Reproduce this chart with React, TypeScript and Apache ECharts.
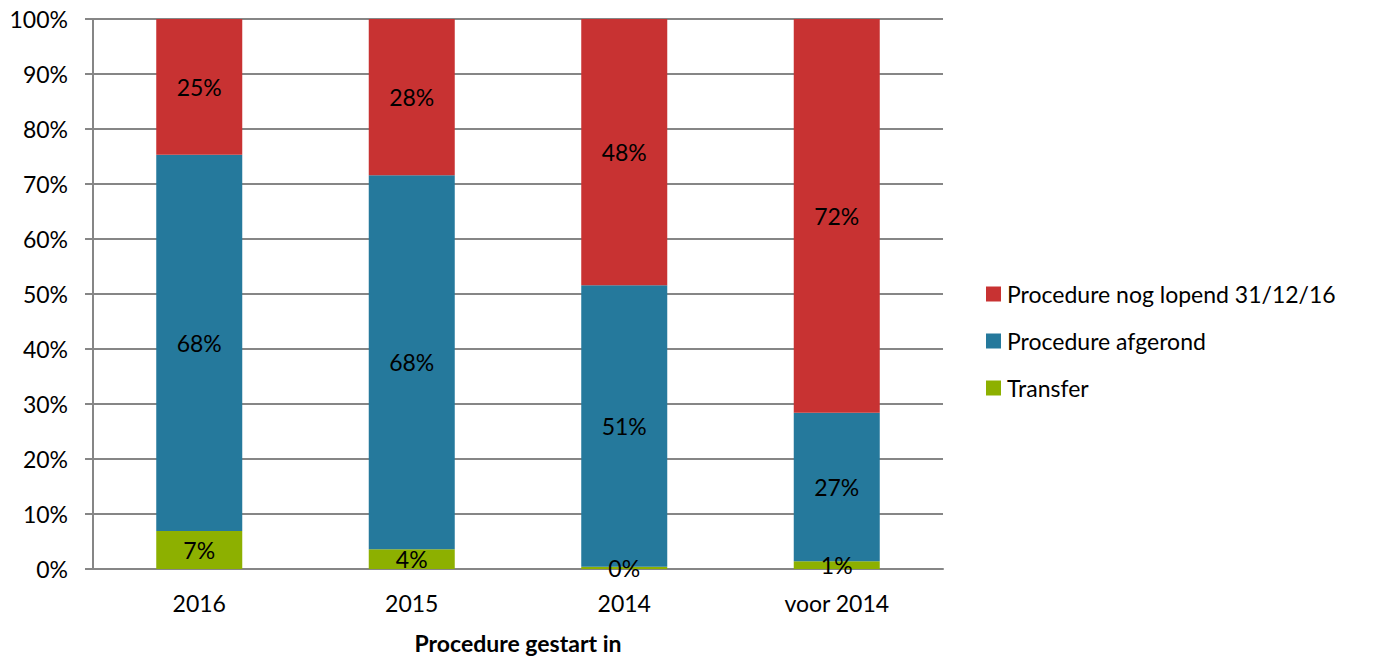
import React, { useEffect, useRef } from "react";
import * as echarts from "echarts";

const categories = ["2016", "2015", "2014", "voor 2014"];
const transfer = [6.9, 3.6, 0.4, 1.4];
const afgerond = [68.4, 68.0, 51.2, 27.0];
const lopend = [24.7, 28.4, 48.4, 71.6];
const yTicks = [0, 10, 20, 30, 40, 50, 60, 70, 80, 90, 100];

const FONT = "Lato, 'Open Sans', sans-serif";
const FS = 23;

export default function App() {
  const ref = useRef<HTMLDivElement>(null);
  useEffect(() => {
    if (!ref.current) return;
    const chart = echarts.init(ref.current, undefined, { renderer: "svg" });
    const label = {
      show: true,
      position: "inside" as const,
      color: "#000",
      fontSize: FS,
      fontFamily: FONT,
      formatter: (p: any) => Math.round(p.value) + "%",
    };
    chart.setOption({
      animation: false,
      textStyle: { fontFamily: FONT },
      grid: { left: 93, right: 430, top: 19, bottom: 90, containLabel: false },
      legend: {
        orient: "vertical",
        left: 981,
        top: 277,
        itemWidth: 15,
        itemHeight: 15,
        itemGap: 23,
        icon: "rect",
        data: ["Procedure nog lopend 31/12/16", "Procedure afgerond", "Transfer"],
        textStyle: { fontSize: FS, lineHeight: 24, color: "#000", fontFamily: FONT, padding: [0, 0, 0, 1] },
      },
      xAxis: {
        type: "category",
        data: categories,
        name: "Procedure gestart in",
        nameLocation: "middle",
        nameGap: 62,
        nameTextStyle: { fontSize: FS, fontWeight: "bold", color: "#000", fontFamily: FONT },
        axisLine: { lineStyle: { color: "#868686", width: 2 } },
        axisTick: { show: false },
        axisLabel: { fontSize: FS, color: "#000", margin: 22, fontFamily: FONT },
      },
      yAxis: {
        type: "value",
        min: 0,
        max: 100,
        interval: 10,
        axisLine: { show: true, lineStyle: { color: "#868686", width: 2 } },
        axisTick: { show: true, length: 8, lineStyle: { color: "#868686", width: 2 } },
        splitLine: { show: true, lineStyle: { color: "#868686", width: 2 } },
        axisLabel: {
          fontSize: FS,
          color: "#000",
          margin: 25,
          fontFamily: FONT,
          formatter: (v: number) => (yTicks.includes(v) ? v + "%" : ""),
        },
      },
      series: [
        {
          name: "Transfer",
          type: "bar",
          stack: "a",
          data: transfer,
          barWidth: 86,
          itemStyle: { color: "#8DB000" },
          label,
        },
        {
          name: "Procedure afgerond",
          type: "bar",
          stack: "a",
          data: afgerond,
          barWidth: 86,
          itemStyle: { color: "#25799C" },
          label,
        },
        {
          name: "Procedure nog lopend 31/12/16",
          type: "bar",
          stack: "a",
          data: lopend,
          barWidth: 86,
          itemStyle: { color: "#C83232" },
          label,
        },
      ],
    });
    return () => chart.dispose();
  }, []);
  return (
    <div
      ref={ref}
      style={{ position: "absolute", left: 0, top: 0, width: 1373, height: 659, background: "#fff" }}
    />
  );
}
